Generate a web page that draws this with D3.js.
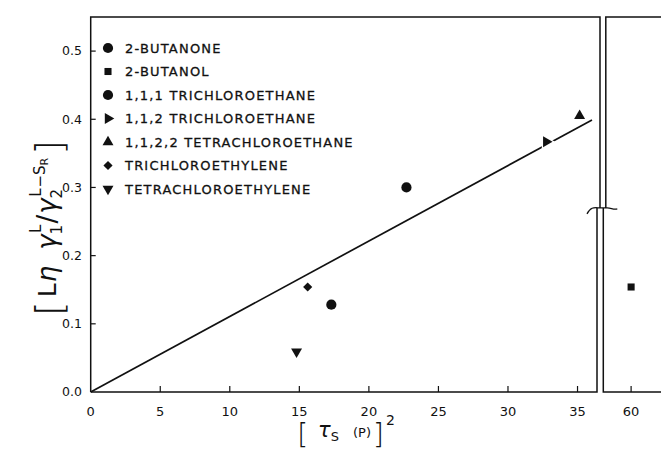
<!DOCTYPE html>
<html>
<head>
<meta charset="utf-8">
<script src="https://cdn.jsdelivr.net/npm/d3@7"></script>
<style>
  body { margin: 0; background: #fff; }
  svg { display: block; }
  text { font-family: "DejaVu Sans", sans-serif; fill: #111; }
</style>
</head>
<body>
<div class="plot"></div>
<script>
// values
const seriesNames = ['2-BUTANONE', '2-BUTANOL', '1,1,1 TRICHLOROETHANE', '1,1,2 TRICHLOROETHANE',
  '1,1,2,2 TETRACHLOROETHANE', 'TRICHLOROETHYLENE', 'TETRACHLOROETHYLENE'];
const seriesShapes = ['circle', 'square', 'circle', 'right', 'up', 'diamond', 'down'];
const pointX = [22.7, 60, 17.3, 32.75, 35.15, 15.6, 14.8];
const pointY = [0.30, 0.154, 0.128, 0.367, 0.405, 0.154, 0.059];
const lineX = [0, 36.04];
const lineY = [0, 0.399];
const xTicksLeft = [0, 5, 10, 15, 20, 25, 30, 35];
const xTicksRight = [60];
const yTicks = [0, 0.1, 0.2, 0.3, 0.4, 0.5];
const breakAt = 0.27;

const width = 661, height = 452;
const svg = d3.select('.plot').append('svg')
  .attr('width', width).attr('height', height);

const x = d3.scaleLinear().domain([0, 36.4]).range([90.7, 597]);
const x2 = d3.scaleLinear().domain([58, 62.15]).range([603.3, 661]);
const y = d3.scaleLinear().domain([0, 0.55]).range([392, 17]);

const ink = '#111';
const frame = svg.append('g').attr('stroke', ink).attr('stroke-width', 1.5).attr('fill', 'none');
const yb = y(breakAt);

// left panel frame
frame.append('path').attr('d', `M${x(0)},${y(0)}V${y(0.55)}H${x.range()[1] + 3}V${yb}`);
frame.append('path').attr('d', `M${x(0)},${y(0)}H${x.range()[1]}V${yb}`);
// right panel frame
frame.append('path').attr('d', `M${width},${y(0.55)}H${x2.range()[0] + 2.5}V${yb}`);
frame.append('path').attr('d', `M${width},${y(0)}H${x2.range()[0]}V${yb}`);
// axis break squiggle
const bx0 = x.range()[1] - 10, bx1 = x2.range()[0] + 14;
frame.append('path')
  .attr('d', `M${bx0},${yb + 6} C${bx0 + 4},${yb - 2} ${bx0 + 8},${yb} ${bx0 + 14},${yb}
    L${bx1 - 10},${yb} C${bx1 - 6},${yb} ${bx1 - 4},${yb + 2} ${bx1},${yb + 1}`)
  .attr('stroke-width', 1.3);

// ticks (inward)
const tickG = svg.append('g').attr('stroke', ink).attr('stroke-width', 1.2);
tickG.selectAll('.yt').data(yTicks.slice(1)).enter().append('line')
  .attr('x1', x(0)).attr('x2', x(0) + 5)
  .attr('y1', d => y(d)).attr('y2', d => y(d));
tickG.selectAll('.xt').data(xTicksLeft.slice(1)).enter().append('line')
  .attr('x1', d => x(d)).attr('x2', d => x(d))
  .attr('y1', y(0)).attr('y2', y(0) - 6);
tickG.selectAll('.xt2').data(xTicksRight).enter().append('line')
  .attr('x1', d => x2(d)).attr('x2', d => x2(d))
  .attr('y1', y(0)).attr('y2', y(0) - 6);

// tick labels
svg.selectAll('.ylab').data(yTicks).enter().append('text')
  .attr('x', 82).attr('y', d => y(d)).attr('dy', '0.35em')
  .attr('text-anchor', 'end').attr('font-size', 12.5)
  .text(d => d.toFixed(1));
svg.selectAll('.xlab').data(xTicksLeft).enter().append('text')
  .attr('x', d => x(d)).attr('y', 416)
  .attr('text-anchor', 'middle').attr('font-size', 13)
  .text(d => d);
svg.selectAll('.xlab2').data(xTicksRight).enter().append('text')
  .attr('x', d => x2(d)).attr('y', 416)
  .attr('text-anchor', 'middle').attr('font-size', 13)
  .text(d => d);

// fitted line
svg.append('path')
  .datum(lineX.map((d, i) => [d, lineY[i]]))
  .attr('d', d3.line().x(d => x(d[0])).y(d => y(d[1])))
  .attr('stroke', ink).attr('stroke-width', 1.7).attr('fill', 'none');

function symbolPath(shape) {
  if (shape === 'circle') return d3.symbol(d3.symbolCircle, 82)();
  if (shape === 'square') return d3.symbol(d3.symbolSquare, 50)();
  if (shape === 'diamond') return d3.symbol(d3.symbolSquare, 42)();
  return d3.symbol(d3.symbolTriangle, 52)();
}
const rot = { circle: 0, square: 0, diamond: 45, up: 0, right: 90, down: 180 };

// data markers
svg.selectAll('.pt').data(pointX).enter().append('path')
  .attr('d', (d, i) => symbolPath(seriesShapes[i]))
  .attr('transform', (d, i) => {
    const px = d > 40 ? x2(d) : x(d);
    return `translate(${px},${y(pointY[i])}) rotate(${rot[seriesShapes[i]]})`;
  })
  .attr('fill', ink).attr('stroke', '#fff').attr('stroke-width', 2.5)
  .style('paint-order', 'stroke');

// legend
const leg = svg.append('g');
leg.selectAll('path').data(seriesNames).enter().append('path')
  .attr('d', (d, i) => symbolPath(seriesShapes[i]))
  .attr('transform', (d, i) => `translate(108,${48 + i * 23.5}) rotate(${rot[seriesShapes[i]]})`)
  .attr('fill', ink);
leg.selectAll('text').data(seriesNames).enter().append('text')
  .attr('x', 125).attr('y', (d, i) => 48 + i * 23.5).attr('dy', '0.36em')
  .attr('font-size', 13).attr('letter-spacing', 1.2)
  .attr('stroke', ink).attr('stroke-width', 0.3)
  .text(d => d);

// x axis title
const xt = svg.append('text').attr('x', 346).attr('y', 437).attr('text-anchor', 'middle');
xt.append('tspan').attr('font-size', 28).attr('font-weight', 200).attr('dy', 7).text('[');
xt.append('tspan').attr('font-size', 21).attr('font-style', 'italic').attr('dx', 10).attr('dy', -7).text('τ');
xt.append('tspan').attr('font-size', 13).attr('dy', 4).text('S');
xt.append('tspan').attr('font-size', 13).attr('dx', 14).attr('dy', -4).text('(P)');
xt.append('tspan').attr('font-size', 28).attr('font-weight', 200).attr('dx', 2).attr('dy', 7).text(']');
xt.append('tspan').attr('font-size', 14).attr('dx', 2).attr('dy', -19).text('2');

// y axis title
const yt = svg.append('text')
  .attr('transform', 'translate(56,228) rotate(-90)')
  .attr('text-anchor', 'middle');
yt.append('tspan').attr('font-size', 38).attr('font-weight', 200).attr('dy', 6).text('[');
yt.append('tspan').attr('font-size', 25).attr('dx', 4).attr('dy', -6).text('L');
yt.append('tspan').attr('font-size', 26).attr('font-style', 'italic').attr('dx', 1).text('η');
yt.append('tspan').attr('font-size', 26).attr('font-style', 'italic').attr('dx', 16).text('γ');
yt.append('tspan').attr('font-size', 15).attr('dy', 6).text('1');
yt.append('tspan').attr('font-size', 15).attr('dx', -8).attr('dy', -21).text('L');
yt.append('tspan').attr('font-size', 26).attr('dx', 1).attr('dy', 15).text('/');
yt.append('tspan').attr('font-size', 26).attr('font-style', 'italic').attr('dx', 1).text('γ');
yt.append('tspan').attr('font-size', 15).attr('dy', 6).text('2');
yt.append('tspan').attr('font-size', 15).attr('dx', -8).attr('dy', -21).text('L');
yt.append('tspan').attr('font-size', 15).attr('dx', 1).attr('dy', 4).text('−S');
yt.append('tspan').attr('font-size', 11).attr('dy', 3).text('R');
yt.append('tspan').attr('font-size', 38).attr('font-weight', 200).attr('dx', 3).attr('dy', 14).text(']');
</script>
</body>
</html>
